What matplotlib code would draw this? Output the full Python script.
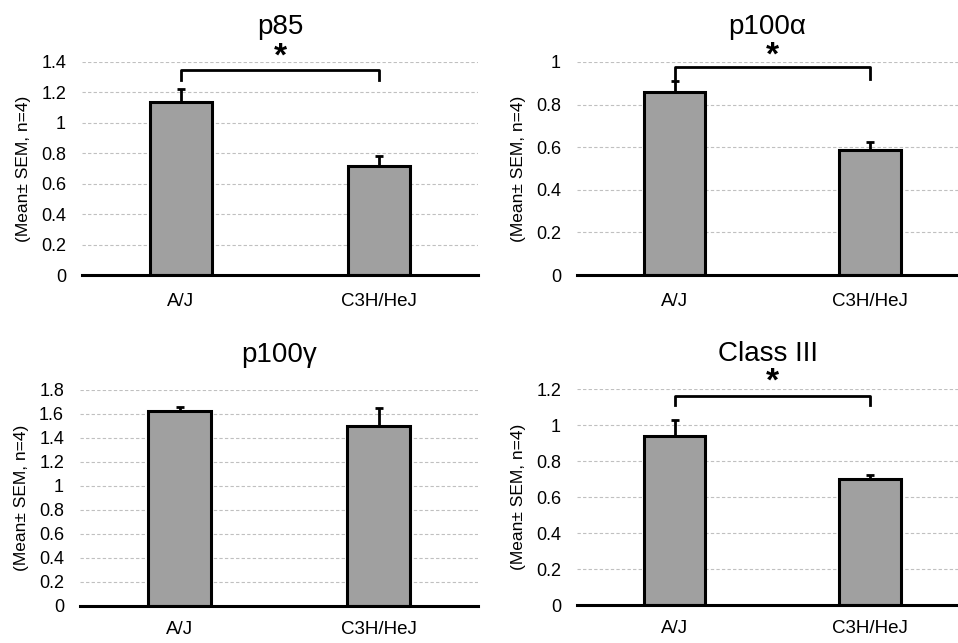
import numpy as np
import matplotlib
matplotlib.use("Agg")
from matplotlib import pyplot as plt

plt.rcParams['font.family'] = ['Liberation Sans', 'DejaVu Sans']

# data
groups = ['A/J', 'C3H/HeJ']
titles = ['p85', 'p100α', 'p100γ', 'Class III']
mean_aj = [1.14, 0.86, 1.625, 0.94]
mean_c3h = [0.715, 0.585, 1.50, 0.70]
sem_aj = [0.085, 0.05, 0.03, 0.09]
sem_c3h = [0.065, 0.04, 0.15, 0.02]
ytop = [1.4, 1.0, 1.8, 1.2]
bracket_y = [1.35, 0.977, None, 1.16]
bracket_drop = [0.07, 0.055, None, 0.05]
star_y = [1.43, 1.03, None, 1.24]

W, H = 958, 643
fig = plt.figure(figsize=(W/100, H/100), dpi=100)

# axes boxes in pixels: left, top, right, bottom
boxes = [(82, 62, 478, 275), (577, 62, 958, 275),
         (80, 390, 478, 606), (577, 389, 958, 605)]
xright = [1.5, 1.45, 1.5, 1.45]
xpad = [13, 13, 11, 11]

for i in range(4):
    l, t, r, b = boxes[i]
    ax = fig.add_axes([l/W, 1-b/H, (r-l)/W, (b-t)/H])
    x = np.arange(len(groups))
    means = [mean_aj[i], mean_c3h[i]]
    sems = [sem_aj[i], sem_c3h[i]]
    ax.errorbar(x, means, yerr=[[0, 0], sems], fmt='none', ecolor='black',
                elinewidth=2, capsize=3, capthick=2, zorder=2)
    ax.bar(x, means, width=0.315, color='#a0a0a0', edgecolor='black',
           linewidth=2.2, zorder=3)
    ax.set_xlim(-0.5, xright[i])
    ax.set_ylim(0, ytop[i])
    ax.set_yticks(np.round(np.arange(0, ytop[i] + 0.01, 0.2), 1))
    ax.yaxis.set_major_formatter(matplotlib.ticker.FuncFormatter(
        lambda v, p: '%g' % round(v, 1)))
    ax.set_xticks(x)
    ax.set_xticklabels(groups)
    ax.tick_params(length=0)
    ax.tick_params(axis='x', pad=xpad[i], labelsize=13.5)
    ax.tick_params(axis='y', pad=11.5, labelsize=13)
    ax.grid(axis='y', color='#c0c0c0', linestyle=(0, (3, 2)), linewidth=0.8, zorder=0)
    for s in ['top', 'right', 'left']:
        ax.spines[s].set_visible(False)
    ax.spines['bottom'].set_linewidth(2.2)
    ax.spines['bottom'].set_zorder(4)
    ax.set_ylabel('(Mean± SEM, n=4)', fontsize=12.5)
    ax.yaxis.set_label_coords(-51/(r-l), 0.5)
    ax.text(0.5, 1 + 35/(b-t), titles[i], transform=ax.transAxes,
            ha='center', va='center', fontsize=20)
    if bracket_y[i] is not None:
        by = bracket_y[i]
        dd = bracket_drop[i]
        ax.plot([0, 0, 1, 1], [by - dd, by, by, by - dd], color='black',
                linewidth=2, clip_on=False, zorder=5)
        ax.text(0.5, star_y[i], '*', ha='center', va='center', fontsize=24,
                fontweight='bold', clip_on=False)

plt.savefig('out.png', dpi=100)
